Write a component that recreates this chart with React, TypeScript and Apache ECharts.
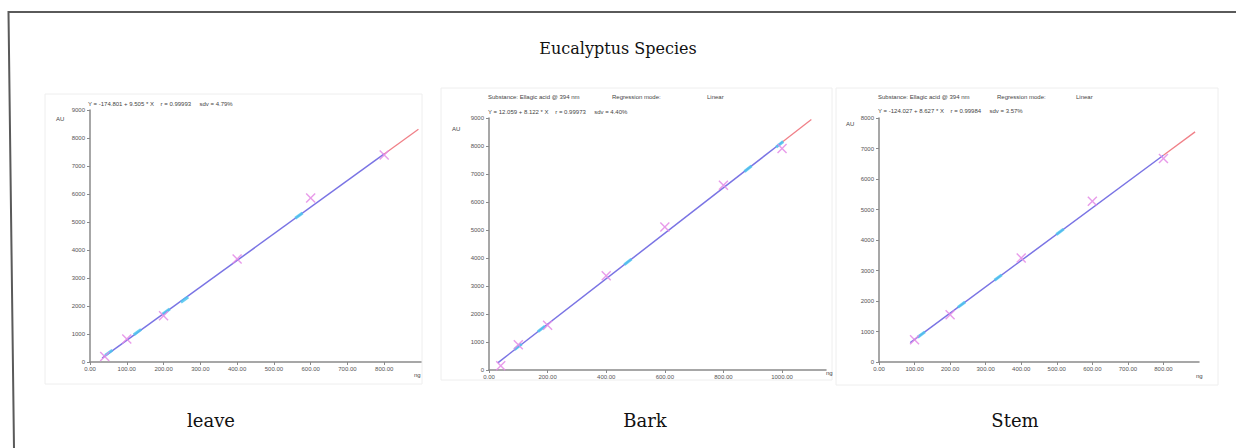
import React, { useEffect, useRef } from "react";
import * as echarts from "echarts";

// ---- data ----
const panelNames = ["leave", "Bark", "Stem"];
const titleText = "Eucalyptus Species";
const equations = [
  "Y = -174.801 + 9.505 * X    r = 0.99993     sdv = 4.79%",
  "Y = 12.059 + 8.122 * X    r = 0.99973     sdv = 4.40%",
  "Y = -124.027 + 8.627 * X    r = 0.99984     sdv = 3.57%",
];
const headerSubstance = "Substance: Ellagic acid @ 394 nm";
const headerMode = "Regression mode:";
const headerLinear = "Linear";

const leafStdX = [40, 100, 200, 400, 600, 800];
const leafStdY = [200, 820, 1650, 3680, 5860, 7390];
const leafSampleX = [51, 129, 207, 257, 568];
const leafSampleY = [330, 1070, 1800, 2230, 5230];
const leafLineX = [33, 800, 893];
const leafLineY = [140, 7430, 8310];

const barkStdX = [40, 100, 200, 400, 600, 800, 1000];
const barkStdY = [150, 900, 1600, 3370, 5110, 6600, 7910];
const barkSampleX = [99, 179, 474, 884, 992];
const barkSampleY = [830, 1470, 3860, 7190, 8060];
const barkLineX = [30, 1000, 1100];
const barkLineY = [256, 8134, 8946];

const stemStdX = [100, 200, 400, 600, 800];
const stemStdY = [730, 1550, 3410, 5270, 6670];
const stemSampleX = [119, 232, 335, 509];
const stemSampleY = [900, 1880, 2770, 4270];
const stemLineX = [88, 800, 889];
const stemLineY = [635, 6778, 7545];

const xMax = [900, 1150, 900];
const xInterval = [100, 200, 100];
const yMax = [9000, 9000, 8000];
const yInterval = [1000, 1000, 1000];

const zip = (xs: number[], ys: number[]) => xs.map((x, i) => [x, ys[i]]);

const CROSS = "path://M0,1L1,0L5,4L9,0L10,1L6,5L10,9L9,10L5,6L1,10L0,9L4,5Z";

export default function App() {
  const ref = useRef<HTMLDivElement>(null);
  useEffect(() => {
    if (!ref.current) return;
    const chart = echarts.init(ref.current, null, { renderer: "svg" });

    const grids = [
      { left: 90, top: 110, width: 331, height: 252 },
      { left: 489, top: 118, width: 337, height: 252 },
      { left: 879, top: 118, width: 320, height: 244 },
    ];
    const sets = [
      { std: zip(leafStdX, leafStdY), smp: zip(leafSampleX, leafSampleY), lx: leafLineX, ly: leafLineY, rot: 36 },
      { std: zip(barkStdX, barkStdY), smp: zip(barkSampleX, barkSampleY), lx: barkLineX, ly: barkLineY, rot: 38 },
      { std: zip(stemStdX, stemStdY), smp: zip(stemSampleX, stemSampleY), lx: stemLineX, ly: stemLineY, rot: 36.5 },
    ];

    const small = { fontSize: 6, color: "#555", fontFamily: "Liberation Sans" };
    const axisLine = { lineStyle: { color: "#8a8a8a", width: 1.5 } };

    const xAxis = grids.map((_, i) => ({
      type: "value",
      gridIndex: i,
      min: 0,
      max: xMax[i],
      interval: xInterval[i],
      axisLine: { show: true, ...axisLine },
      axisTick: { show: true, length: 3, lineStyle: { color: "#8a8a8a" } },
      axisLabel: { ...small, margin: 4, showMaxLabel: false, formatter: (v: number) => v.toFixed(2) },
      splitLine: { show: false },
    }));
    const yAxis = grids.map((_, i) => ({
      type: "value",
      gridIndex: i,
      min: 0,
      max: yMax[i],
      interval: yInterval[i],
      axisLine: { show: true, ...axisLine },
      axisTick: { show: true, length: 3, lineStyle: { color: "#8a8a8a" } },
      axisLabel: { ...small, margin: 5, formatter: (v: number) => String(v) },
      splitLine: { show: false },
    }));

    const series: any[] = [];
    sets.forEach((s, i) => {
      series.push({
        type: "line",
        xAxisIndex: i,
        yAxisIndex: i,
        data: [[s.lx[1], s.ly[1]], [s.lx[2], s.ly[2]]],
        symbol: "none",
        lineStyle: { color: "#f08088", width: 1.3 },
        z: 2,
      });
      series.push({
        type: "line",
        xAxisIndex: i,
        yAxisIndex: i,
        data: [[s.lx[0], s.ly[0]], [s.lx[1], s.ly[1]]],
        symbol: "none",
        lineStyle: { color: "#7a74e4", width: 1.5 },
        z: 3,
      });
      series.push({
        type: "scatter",
        xAxisIndex: i,
        yAxisIndex: i,
        data: s.smp,
        symbol: "rect",
        symbolSize: [9, 3],
        symbolRotate: s.rot,
        itemStyle: { color: "#4cc6ee", opacity: 0.85 },
        z: 4,
      });
      series.push({
        type: "scatter",
        xAxisIndex: i,
        yAxisIndex: i,
        data: s.std,
        symbol: CROSS,
        symbolSize: 10,
        itemStyle: { color: "#e48ae6", opacity: 0.85 },
        z: 5,
      });
    });

    const t = (text: string, x: number, y: number, extra: any = {}) => ({
      type: "text",
      x,
      y,
      style: { text, fontSize: 6, fill: "#444", fontFamily: "Liberation Sans", ...extra },
      z: 10,
    });

    const label = (text: string, x: number) => ({
      type: "text",
      x,
      y: 420,
      style: { text, fontSize: 18, fill: "#111", fontFamily: "DejaVu Serif", textAlign: "center", textVerticalAlign: "middle" },
    });

    const graphic: any[] = [
      {
        type: "polyline",
        shape: { points: [[14, 448], [8.5, 12], [1236, 12]] },
        style: { stroke: "#5a5a5a", lineWidth: 2, fill: null },
      },
      { type: "rect", shape: { x: 45, y: 94, width: 377, height: 290 }, style: { fill: null, stroke: "#eeeeee", lineWidth: 1 } },
      { type: "rect", shape: { x: 441, y: 88, width: 391, height: 292 }, style: { fill: null, stroke: "#eeeeee", lineWidth: 1 } },
      { type: "rect", shape: { x: 836, y: 88, width: 382, height: 297 }, style: { fill: null, stroke: "#eeeeee", lineWidth: 1 } },
      {
        type: "text",
        x: 618,
        y: 48,
        style: { text: titleText, fontSize: 16, fill: "#111", fontFamily: "DejaVu Serif", textAlign: "center", textVerticalAlign: "middle" },
      },
      label(panelNames[0], 211),
      label(panelNames[1], 645),
      label(panelNames[2], 1015),
      // panel 1
      t(equations[0], 88, 101),
      t("AU", 56, 116),
      t("ng", 414, 372),
      // panel 2
      t(headerSubstance, 488, 94),
      t(headerMode, 612, 94),
      t(headerLinear, 707, 94),
      t(equations[1], 488, 109),
      t("AU", 452, 126),
      t("ng", 826, 370),
      // panel 3
      t(headerSubstance, 878, 94),
      t(headerMode, 997, 94),
      t(headerLinear, 1076, 94),
      t(equations[2], 878, 108),
      t("AU", 846, 121),
      t("ng", 1196, 373),
    ];

    chart.setOption({
      animation: false,
      backgroundColor: "#ffffff",
      grid: grids,
      xAxis,
      yAxis,
      series,
      graphic,
    } as any);
    return () => chart.dispose();
  }, []);
  return (
    <div
      ref={ref}
      style={{ position: "absolute", left: 0, top: 0, width: 1236, height: 448 }}
    />
  );
}
